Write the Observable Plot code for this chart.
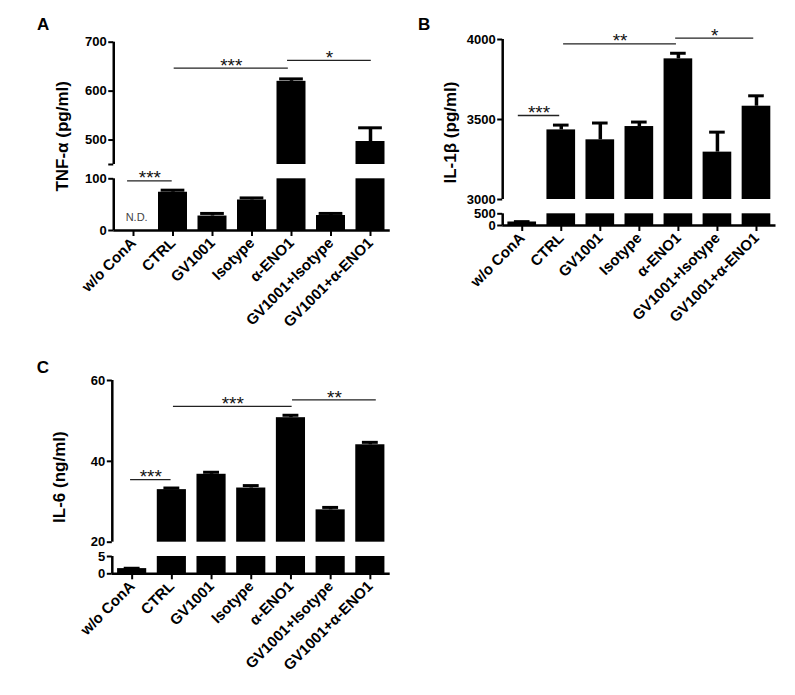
<!DOCTYPE html>
<html><head><meta charset="utf-8">
<script src="https://cdn.jsdelivr.net/npm/d3@7"></script>
<script src="https://cdn.jsdelivr.net/npm/@observablehq/plot@0.6"></script>
<style>
body{margin:0;background:#fff;}
#fig{position:relative;width:795px;height:695px;background:#fff;overflow:hidden;font-family:"Liberation Sans",Arial,sans-serif;}
#fig svg{position:absolute;overflow:visible;background:transparent;}
.letter{position:absolute;font-weight:bold;font-size:17px;line-height:1;}
</style></head>
<body><div id="fig"></div>
<script>
const categories = ["w/o ConA","CTRL","GV1001","Isotype","α-ENO1","GV1001+Isotype","GV1001+α-ENO1"];

// Panel A: TNF-α (pg/ml); w/o ConA not detected
const tnfMean = [null, 74, 28, 59, 620, 29, 497];
const tnfErr  = [null, 4, 5, 4, 5, 4, 28];
const tnfTicks = [0, 100, 450, 500, 600, 700];
const tnfSig = [{x1: -0.15, x2: 0.98, y: 96, label: "***"},
                {x1: 1.03, x2: 3.92, y: 647, label: "***"},
                {x1: 3.9, x2: 6.02, y: 663, label: "*"}];

// Panel B: IL-1β (pg/ml)
const il1bMean = [150, 3435, 3373, 3456, 3879, 3296, 3583];
const il1bErr  = [15, 30, 105, 28, 35, 125, 65];
const il1bTicks = [0, 500, 3000, 3500, 4000];
const il1bSig = [{x1: -0.1, x2: 0.96, y: 3525, label: "***"},
                 {x1: 1.06, x2: 3.95, y: 3973, label: "**"},
                 {x1: 3.93, x2: 5.93, y: 4008, label: "*"}];

// Panel C: IL-6 (ng/ml)
const il6Mean = [1.5, 33, 36.8, 33.4, 50.8, 28, 44.1];
const il6Err  = [0.1, 0.4, 0.5, 0.6, 0.6, 0.6, 0.6];
const il6Ticks = [0, 5, 20, 40, 60];
const il6Sig = [{x1: -0.04, x2: 0.98, y: 35.5, label: "***"},
                {x1: 1.04, x2: 4.03, y: 53.6, label: "***"},
                {x1: 4.04, x2: 6.15, y: 55.2, label: "**"}];

const fig = document.getElementById("fig");
const FONT = '"Liberation Sans", Arial, sans-serif';

function panel(o) {
  const {mean, err, breaks, ymax, ticks, hidden = [], sig, label, capW} = o;
  const [low, high] = breaks;
  const [y0, yLowTop, yHighBottom, yTop] = o.yRange;
  const idx = d3.range(categories.length).filter(i => mean[i] != null);
  const hw = 0.367;
  const common = {
    width: o.width,
    marginLeft: o.marginLeft, marginRight: o.marginRight,
    style: {fontFamily: FONT, overflow: "visible", background: "transparent", color: "#000"},
    x: {type: "linear", domain: [-0.5, categories.length - 0.5], axis: null}
  };
  const fmt = d => hidden.includes(d) ? "" : String(d);
  const yAxis = (t) => Plot.axisY({ticks: t, tickFormat: fmt, tickSize: 5, tickPadding: 2,
                  fontSize: 13, fontWeight: "bold", strokeWidth: 2, label: null});
  const errMarks = (ids) => [
    Plot.ruleX(ids, {x: i => i, y1: i => mean[i], y2: i => mean[i] + err[i], stroke: "#000", strokeWidth: 3.5}),
    Plot.ruleY(ids, {y: i => mean[i] + err[i], x1: i => i - capW, x2: i => i + capW, stroke: "#000", strokeWidth: 3})
  ];
  const sigMarks = (s) => [
    Plot.ruleY(s, {x1: "x1", x2: "x2", y: "y", stroke: "#222", strokeWidth: 1.3}),
    Plot.text(s, {x: d => (d.x1 + d.x2) / 2, y: "y", text: "label", fontSize: 19, lineAnchor: "bottom", dy: 3.6, fill: "#111"})
  ];
  const hiIdx = idx.filter(i => mean[i] > high);
  const loIdx = idx.filter(i => mean[i] <= low);

  // upper segment
  const topH = yHighBottom + 4;
  const upper = Plot.plot({
    ...common, height: topH, marginTop: yTop, marginBottom: topH - yHighBottom,
    y: {type: "linear", domain: [high, ymax], axis: null},
    marks: [
      Plot.rect(hiIdx, {x1: i => i - hw, x2: i => i + hw, y1: high, y2: i => mean[i], fill: "#000"}),
      ...errMarks(hiIdx),
      Plot.ruleX([-0.5], {stroke: "#000", strokeWidth: 2.5}),
      yAxis(ticks.filter(t => t >= high)),
      ...sigMarks(sig.filter(d => d.y > low)),
      Plot.text([label], {frameAnchor: "left", rotate: -90, dx: o.labelDx,
                          dy: (y0 + yTop) / 2 - (yHighBottom + yTop) / 2,
                          text: d => d, fontSize: 17, fontWeight: "bold", lineAnchor: "bottom", textAnchor: "middle"})
    ]
  });
  // lower segment
  const lower = Plot.plot({
    ...common, height: o.height, marginTop: yLowTop, marginBottom: o.height - y0,
    y: {type: "linear", domain: [0, low], axis: null},
    marks: [
      Plot.rect(idx, {x1: i => i - hw, x2: i => i + hw, y1: 0, y2: i => Math.min(mean[i], low), fill: "#000"}),
      ...errMarks(loIdx),
      Plot.ruleX([-0.5], {stroke: "#000", strokeWidth: 2.5}),
      Plot.ruleY([0], {stroke: "#000", strokeWidth: 2.5}),
      yAxis(ticks.filter(t => t <= low)),
      Plot.axisX({ticks: d3.range(categories.length), tickFormat: i => categories[i], tickRotate: -45,
                  tickSize: 6, tickPadding: 4, fontSize: 15, fontWeight: "bold", strokeWidth: 2, label: null}),
      ...sigMarks(sig.filter(d => d.y <= low)),
      ...(o.extra || [])
    ]
  });
  for (const p of [upper, lower]) {
    p.style.left = o.left + "px";
    p.style.top = o.top + "px";
    fig.appendChild(p);
  }
}

panel({mean: tnfMean, err: tnfErr, breaks: [100, 450], ymax: 700, ticks: tnfTicks, hidden: [450], sig: tnfSig,
  label: "TNF-α (pg/ml)", capW: 0.3,
  left: 0, top: 0, width: 400, height: 340, marginLeft: 113.25, marginRight: 10.25,
  yRange: [230, 178.3, 164, 41.7], labelDx: -46,
  extra: [Plot.text(["N.D."], {x: 0.08, y: 25, text: d => d, fontSize: 11, fill: "#444"})]});

panel({mean: il1bMean, err: il1bErr, breaks: [500, 3000], ymax: 4000, ticks: il1bTicks, sig: il1bSig,
  label: "IL-1β (pg/ml)", capW: 0.2,
  left: 400, top: 0, width: 395, height: 345, marginLeft: 102.2, marginRight: 19.5,
  yRange: [225, 213.3, 199, 39], labelDx: -47});

panel({mean: il6Mean, err: il6Err, breaks: [5, 20], ymax: 60, ticks: il6Ticks, sig: il6Sig,
  label: "IL-6 (ng/ml)", capW: 0.2,
  left: 0, top: 340, width: 420, height: 355, marginLeft: 111.8, marginRight: 30.3,
  yRange: [233.3, 216, 201.7, 40], labelDx: -47});

for (const [t, x, y] of [["A", 37, 16.3], ["B", 418, 15.6], ["C", 36.7, 358.6]]) {
  const d = document.createElement("div");
  d.className = "letter";
  d.textContent = t;
  d.style.left = x + "px";
  d.style.top = y + "px";
  fig.appendChild(d);
}
</script>
</body></html>
